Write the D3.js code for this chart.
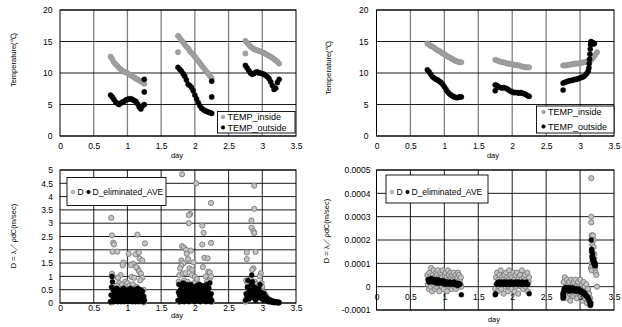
<!DOCTYPE html>
<html><head><meta charset="utf-8">
<script src="https://cdn.jsdelivr.net/npm/d3@7"></script>
<style>
body{margin:0;background:#fff}
svg{display:block}
text{font-family:"Liberation Sans",Arial,sans-serif;fill:#000}
</style>
</head><body>
<svg id="c" width="622" height="327"></svg>
<script>
// ---------------- DATA ----------------
const xTicks = [0, 0.5, 1, 1.5, 2, 2.5, 3, 3.5];
const xTickLabels = ["0", "0.5", "1", "1.5", "2", "2.5", "3", "3.5"];
const tempTicks = [0, 5, 10, 15, 20];
const tempTickLabels = ["0", "5", "10", "15", "20"];
const dTicksL = [0, 0.5, 1, 1.5, 2, 2.5, 3, 3.5, 4, 4.5, 5];
const dTickLabelsL = ["0", "0.5", "1", "1.5", "2", "2.5", "3", "3.5", "4", "4.5", "5"];
const dTicksR = [-0.0001, 0, 0.0001, 0.0002, 0.0003, 0.0004, 0.0005];
const dTickLabelsR = ["-0.0001", "0", "0.0001", "0.0002", "0.0003", "0.0004", "0.0005"];
const seriesNames = ["TEMP_inside", "TEMP_outside", "D", "D_eliminated_AVE"];

// sampling spans (day) of each measured run
const runSpans = [[0.75, 1.25], [1.75, 2.25], [2.75, 3.25]];

// top-left: temperatures (deg C), sampled evenly over each run
const tlInside = [
  [12.6,12.2,11.7,11.4,11.1,10.8,10.6,10.4,10.2,10.1,10.0,9.8,9.6,9.5,9.3,9.1,9.0,8.8,8.7,8.5,8.3],
  [15.9,15.6,15.2,14.9,14.5,14.2,13.9,13.5,13.2,12.9,12.6,12.2,11.9,11.6,11.2,10.9,10.5,10.2,9.9,9.5,9.2],
  [15.1,14.8,14.5,14.2,14.0,13.8,13.7,13.6,13.5,13.4,13.3,13.2,13.0,12.9,12.7,12.6,12.4,12.2,12.0,11.8,11.5]
];
const tlInsideExtra = [[1.75, 13.3], [2.75, 13.1]];
const tlOutside = [
  [6.5,6.2,5.8,5.4,5.2,5.0,5.2,5.4,5.5,5.7,5.8,5.9,5.9,5.8,5.6,5.5,5.1,4.6,4.3,4.8,5.0],
  [10.9,10.6,10.3,9.9,9.5,8.9,8.2,8.0,7.7,7.2,6.5,5.9,5.3,4.8,4.4,4.2,4.0,3.9,3.8,3.7,3.6],
  [11.2,10.8,10.4,10.0,9.8,9.9,10.1,10.2,10.0,10.0,9.9,9.8,9.6,9.4,9.1,8.6,8.0,7.4,7.6,8.5,9.0]
];
const tlOutsideExtra = [[1.25, 9.0], [1.25, 7.0], [2.25, 8.7], [2.25, 6.2]];

// top-right: temperatures (deg C)
const trInside = [
  [14.7,14.5,14.3,14.2,14.0,13.8,13.6,13.5,13.3,13.1,13.0,12.8,12.6,12.5,12.3,12.2,12.0,11.9,11.8,11.7,11.7],
  [12.1,12.0,11.9,11.8,11.7,11.7,11.6,11.5,11.5,11.4,11.4,11.3,11.3,11.2,11.2,11.1,11.0,11.0,10.9,10.9,10.9],
  [11.2,11.2,11.2,11.3,11.3,11.4,11.4,11.5,11.5,11.5,11.6,11.6,11.7,11.7,11.8,11.9,12.0,12.2,12.5,12.9,13.3]
];
const trOutside = [
  [10.5,10.2,9.8,9.4,9.2,9.0,8.9,8.7,8.5,8.2,7.8,7.4,7.0,6.7,6.5,6.3,6.2,6.1,6.1,6.2,6.2],
  [8.1,8.0,7.8,7.7,7.6,7.7,7.6,7.5,7.3,7.1,7.0,6.9,6.9,6.9,6.8,6.9,6.8,6.7,6.6,6.4,6.3],
  [8.4,8.5,8.6,8.7,8.8,8.8,8.9,9.0,9.0,9.1,9.2,9.3,9.4,9.6,9.9,10.3]
];
const trOutsideSpans = [[0.75, 1.25], [1.75, 2.25], [2.75, 3.12]];
const trOutsideExtra = [[1.75,7.2],[2.75,7.3],[3.13,10.8],[3.135,11.5],[3.14,12.2],[3.145,13],[3.15,13.8],[3.155,14.5],[3.16,15],[3.17,14.9],[3.18,14.7],[3.19,14.8],[3.2,14.6],[3.21,14.7]];

// bottom-left: D (m/sec)
const blD = [
  [0.76,3.2],[0.77,2.54],[0.79,2.27],[0.8,2.2],[0.78,1.93],[0.85,1.93],[1.15,2.57],[1.26,2.24],[1.02,1.85],[1.15,1.87],
  [1.12,1.83],[1.17,1.9],[0.94,1.52],[0.93,1.42],[1.08,1.48],[1.05,1.42],[1.18,1.67],[1.22,1.6],[1.15,1.3],[1.17,1.2],
  [1.13,1.35],[1.2,1.1],[1.22,0.95],[1.19,0.85],[0.77,1.1],[0.78,1.0],[0.9,1.05],[0.86,0.95],[0.88,0.75],[0.92,0.7],
  [0.97,0.8],[1.0,0.75],[1.03,0.65],[1.06,0.98],[1.1,0.95],[1.08,0.7],[0.82,0.6],[0.84,0.65],[0.95,0.55],[0.99,0.5],
  [1.01,0.45],[1.12,0.55],[1.14,0.6],[1.16,0.5],[1.2,0.45],[1.24,0.5],[0.8,0.45],[0.87,0.4],[0.91,0.45],[0.96,0.35],
  [1.04,0.4],[1.1,0.35],[0.75,0.05],[0.76,0.02],[1.25,0.1],[1.24,0.02],
  [1.81,4.84],[2.02,4.5],[2.24,3.76],[1.93,3.35],[1.91,3.3],[1.91,3.0],[2.11,2.91],[2.13,2.64],[2.11,2.2],[2.24,2.26],
  [1.81,2.14],[1.84,2.08],[1.87,2.0],[1.94,1.97],[1.88,1.85],[1.9,1.65],[2.14,1.7],[2.19,1.68],[1.8,1.6],[1.83,1.5],
  [1.98,1.53],[1.8,1.4],[1.78,1.3],[1.92,1.3],[1.96,1.25],[2.12,1.35],[2.2,1.18],[2.22,1.15],[1.77,1.05],[1.82,1.1],
  [1.86,1.12],[1.95,1.05],[2.0,0.98],[2.03,0.9],[2.16,1.0],[2.22,0.9],[2.24,1.0],[1.76,0.8],[1.79,0.7],[1.84,0.85],
  [1.89,0.8],[1.99,0.75],[2.06,0.7],[2.09,0.6],[2.14,0.65],[2.18,0.8],[2.2,0.6],[1.85,0.55],[1.92,0.6],[2.04,0.5],
  [2.08,0.5],[1.76,0.05],[2.25,0.05],
  [2.88,4.41],[2.88,3.54],[2.84,3.1],[2.84,2.83],[2.87,2.7],[2.88,2.63],[2.77,1.9],[2.77,1.65],[2.9,1.92],[2.87,1.3],
  [2.85,1.25],[2.98,1.12],[2.96,1.0],[2.76,0.85],[2.78,0.75],[2.83,0.9],[2.89,0.8],[2.92,0.7],[2.95,0.65],[2.99,0.75],
  [3.0,0.6],[2.97,0.5],[2.93,0.45],[2.9,0.55],[3.02,0.4],[3.03,0.35],[3.05,0.3],[2.94,0.35],[3.0,0.3],[3.07,0.2],
  [3.08,0.15],[3.1,0.12],[3.12,0.1],[3.14,0.08],[3.16,0.06],[3.18,0.05],[3.2,0.04],[3.22,0.03],[3.24,0.02],[3.25,0.02],
  [3.11,0.05],[3.15,0.03],[3.19,0.02],[3.23,0.01],[3.06,0.1],[3.04,0.2],[2.86,0.6],[2.82,0.5],[2.75,0.05]
];
// bottom-left: D_eliminated_AVE, sampled evenly over each run
const blAve = [
  [0.05,0.3,0.6,1.0,0.8,0.5,0.2,0.05,0.35,0.15,0.45,0.1,0.3,0.55,0.2,0.05,0.4,0.25,0.1,0.35,0.5,0.15,0.05,0.3,0.45,0.2,0.1,0.55,0.3,0.05,0.25,0.4,0.15,0.35,0.1,0.5,0.25,0.05,0.3,0.45,0.15,0.2,0.55,0.35,0.1,0.25,0.05,0.4,0.3,0.15,0.5,0.2,0.05,0.35,0.45,0.1,0.25,0.55,0.3,0.05,0.2,0.4,0.15,0.5,0.3,0.1,0.35,0.45,0.2,0.05,0.25,0.1],
  [0.1,0.4,0.7,0.3,0.05,0.5,0.2,0.65,0.35,0.1,0.45,0.75,0.3,0.05,0.4,0.2,0.6,0.35,0.1,0.7,0.45,0.15,0.3,0.05,0.55,0.25,0.4,0.7,0.2,0.1,0.35,0.5,0.15,0.3,0.6,0.05,0.25,0.45,0.2,0.65,0.4,0.1,0.3,0.55,0.15,0.7,0.35,0.05,0.25,0.5,0.2,0.4,0.65,0.1,0.3,0.45,0.15,0.6,0.25,0.05,0.35,0.7,0.2,0.4,0.1,0.55,0.3,0.75,0.2,0.05,0.35,0.1],
  [0.1,0.35,0.2,0.6,0.85,0.4,0.15,0.5,0.3,0.7,1.05,0.8,0.45,0.2,0.6,0.35,0.1,0.5,0.3,0.45,0.2,0.55,0.35,0.7,0.25,0.4,0.15,0.3,0.2,0.35,0.1,0.25,0.15,0.2,0.1,0.15,0.05,0.12,0.08,0.1,0.05,0.08,0.04,0.06,0.03,0.05,0.02,0.04,0.03,0.02,0.03,0.02,0.01,0.02]
];

// bottom-right: values in units of 1e-5 m/sec
const BR_UNIT = 1e-5;
const brD = [
  [5,1,3,-1,6,2,4,0,8,3,-2,5,1,7,2,4,-1,3,6,0,5,2,7,1,4,-2,3,6,1,5,0,4,7,2,-1,3,5,1,6,2,4,-2,3,7,1,5,0,3,6,2,4,-1,5,1,3,6,0,4,2,5,-1,3,1,4,6,0,5,2,3,1,4,0],
  [-1,4,1,6,-2,3,0,5,2,7,-1,4,1,3,-3,5,2,0,6,1,4,-2,3,7,0,5,2,-1,4,1,6,3,-2,5,0,2,6,1,-3,4,2,5,0,3,7,1,-1,4,2,5,0,3,1,6,-2,2,4],
  [-3,2,-1,4,-4,0,-2,3,-5,1,-1,2,-3,-6,0,3,-2,1,-4,2,-1,-3,3,0,-2,-5,1,2,-3,0,-1,3,-4,-2,1,-6,-1,2,-3,0,-5,-2,1,-7,-4,-1,-6,-3,-8,-5]
];
const brDSpans = [[0.75, 1.25], [1.75, 2.25], [2.75, 3.15]];
const brDExtra = [[3.165,46.5],[3.165,30],[3.165,27.5],[3.17,22],[3.175,21],[3.18,18],[3.16,8],[3.17,7],[3.17,10],[3.18,15],[3.19,22],[3.2,20],[3.2,17],[3.21,14],[3.21,12],[3.22,10],[3.22,8],[3.23,6],[3.24,5],[3.25,0],[3.19,12],[3.185,9]];
const brAve = [
  [3,2,3,2.5,3.5,2,3,2.5,2,3,1.5,2.5,3,2,1.5,2.5,2,1.5,2.5,2,1,2,1.5,2,1,1.5,2,1,1.5,1.5,1,2,1,1.5,1,0.5,1.5,1,1],
  [1,1.5,2,1,1.5,1,2,1.5,1,2,1.5,1,1,2,1.5,1,2,1,1.5,2,1,1.5,1,2,1.5,1,1.5,2,1,1.5,1,2,1,1.5,1,1.5,2,1,1]
];
const brAveSpans = [[0.76, 1.23], [1.77, 2.23]];
const brAveExtra = [
  [1.25,-3.5],[1.75,-3.5],[1.755,-3],[2.25,-3],
  [2.75,-3],[2.75,-4],[2.75,-5],[2.755,-3.5],[2.755,-4.5],[2.76,-2],[2.77,-1],[2.78,-0.5],[2.79,-1],[2.8,-0.5],
  [2.81,-1.5],[2.82,-0.5],[2.83,-1],[2.84,-2],[2.85,-1],[2.86,-0.5],[2.87,-1.5],[2.88,-1],[2.89,-0.5],[2.9,-1.5],
  [2.91,-1],[2.92,-2],[2.93,-1],[2.94,-1.5],[2.95,-1],[2.96,-2],[2.97,-1.5],[2.98,-1],[2.99,-2],[3.0,-1.5],
  [3.01,-2],[3.02,-2.5],[3.03,-2],[3.04,-2.5],[3.05,-3],[3.06,-2.5],[3.07,-3],[3.08,-3.5],[3.09,-4],[3.1,-4],
  [3.11,-4.5],[3.12,-5],[3.13,-5.5],[3.14,-6.5],[3.15,-7.5],[3.155,-8],[3.16,-7],[3.165,20],[3.17,16],[3.172,15],
  [3.175,13],[3.18,12],[3.185,14],[3.19,11],[3.195,12],[3.2,10],[3.205,11],[3.21,10],[3.215,9],[3.22,10],[3.225,9]
];

// ---------------- HELPERS ----------------
function runs(valueRuns, spans, unit) {
  const u = unit || 1, out = [];
  valueRuns.forEach((vals, k) => {
    const [a, b] = spans[k], n = vals.length;
    vals.forEach((v, i) => out.push([a + (b - a) * i / (n - 1), v * u]));
  });
  return out;
}
function pairs(list, unit) { const u = unit || 1; return list.map(p => [p[0], p[1] * u]); }

const STY = {
  inside: {fill: "#a3a3a3", stroke: "#8e8e8e", sw: 0.6, r: 2.6},
  outside: {fill: "#000", stroke: "#000", sw: 0.4, r: 2.6},
  d: {fill: "#c4c4c4", stroke: "#7a7a7a", sw: 0.9, r: 2.6},
  ave: {fill: "#000", stroke: "#000", sw: 0.4, r: 2.5}
};
const TICK_FS = 8.5;

const svg = d3.select("#c");

function panel(c) {
  const g = svg.append("g");
  const x = d3.scaleLinear().domain([0, 3.5]).range([c.left, c.right]);
  const y = d3.scaleLinear().domain(c.yDomain).range([c.bottom, c.top]);
  // vertical grid
  g.selectAll(null).data(xTicks.filter(t => t > 0 && t < 3.5)).join("line")
    .attr("x1", d => x(d)).attr("x2", d => x(d)).attr("y1", c.top).attr("y2", c.bottom)
    .attr("stroke", c.vColor).attr("stroke-width", c.vWidth);
  // horizontal grid
  g.selectAll(null).data(c.yTicks).join("line")
    .attr("x1", c.left).attr("x2", c.right).attr("y1", d => y(d)).attr("y2", d => y(d))
    .attr("stroke", "#000").attr("stroke-width", 0.9);
  // frame
  g.append("rect").attr("x", c.left).attr("y", c.top).attr("width", c.right - c.left)
    .attr("height", c.bottom - c.top).attr("fill", "none").attr("stroke", "#000").attr("stroke-width", 1);
  // points
  c.series.forEach(s => {
    const st = STY[s.style];
    g.append("g").selectAll("circle").data(s.points).join("circle")
      .attr("cx", d => x(d[0])).attr("cy", d => y(d[1])).attr("r", st.r)
      .attr("fill", st.fill).attr("stroke", st.stroke).attr("stroke-width", st.sw);
  });
  // y axis labels
  const ya = d3.axisLeft(y).tickValues(c.yTicks).tickFormat((d, i) => c.yLabels[i])
    .tickSize(0).tickPadding(c.left - c.yLabelRight);
  const yg = g.append("g").attr("transform", `translate(${c.left},0)`).call(ya);
  yg.select(".domain").remove();
  yg.selectAll("text").attr("font-size", TICK_FS).attr("font-family", "Liberation Sans, Arial, sans-serif");
  // x axis labels
  const xa = d3.axisBottom(x).tickValues(xTicks).tickFormat((d, i) => xTickLabels[i])
    .tickSize(0).tickPadding(c.xPad);
  const xg = g.append("g").attr("transform", `translate(0,${y(c.xAxisAt)})`).call(xa);
  xg.select(".domain").remove();
  xg.selectAll("text").attr("font-size", TICK_FS).attr("font-family", "Liberation Sans, Arial, sans-serif");
  // titles
  g.append("text").attr("x", c.dayX).attr("y", c.dayY).attr("text-anchor", "middle")
    .attr("font-size", 7.5).text("day");
  g.append("text").attr("transform", `translate(${c.ytX},${c.ytY}) rotate(-90)`)
    .attr("text-anchor", "middle").attr("dominant-baseline", "central")
    .attr("font-size", 7.5).text(c.yTitle);
  // legend
  const L = c.legend;
  const lg = g.append("g");
  lg.append("rect").attr("x", L.x).attr("y", L.y).attr("width", L.w).attr("height", L.h)
    .attr("fill", "#fff").attr("stroke", "#000").attr("stroke-width", 0.9);
  L.items.forEach(it => {
    const st = STY[it.style];
    lg.append("circle").attr("cx", it.mx).attr("cy", it.my).attr("r", 1.8)
      .attr("fill", st.fill).attr("stroke", st.stroke).attr("stroke-width", 0.6);
    lg.append("text").attr("x", it.tx).attr("y", it.my).attr("dominant-baseline", "central")
      .attr("font-size", L.fs).text(it.label);
  });
}

// ---------------- PANELS ----------------
panel({
  left: 60, right: 296, top: 10, bottom: 136, yDomain: [0, 20],
  yTicks: tempTicks, yLabels: tempTickLabels, yLabelRight: 52.5,
  xAxisAt: 0, xPad: 7, vColor: "#808080", vWidth: 1.3,
  dayX: 177, dayY: 158, ytX: 13, ytY: 60, yTitle: "Temperature(℃)",
  series: [
    {style: "inside", points: runs(tlInside, runSpans).concat(pairs(tlInsideExtra))},
    {style: "outside", points: runs(tlOutside, runSpans).concat(pairs(tlOutsideExtra))}
  ],
  legend: {x: 217.5, y: 111.5, w: 77.5, h: 21.5, fs: 9, items: [
    {style: "inside", mx: 223, my: 117, tx: 227.5, label: seriesNames[0]},
    {style: "outside", mx: 223, my: 127.5, tx: 227.5, label: seriesNames[1]}
  ]}
});

panel({
  left: 376.5, right: 614, top: 10, bottom: 136, yDomain: [0, 20],
  yTicks: tempTicks, yLabels: tempTickLabels, yLabelRight: 368.5,
  xAxisAt: 0, xPad: 7, vColor: "#808080", vWidth: 1.3,
  dayX: 493, dayY: 158, ytX: 328, ytY: 68, yTitle: "Temperature(℃)",
  series: [
    {style: "inside", points: runs(trInside, runSpans)},
    {style: "outside", points: runs(trOutside, trOutsideSpans).concat(pairs(trOutsideExtra))}
  ],
  legend: {x: 536.5, y: 106, w: 77.5, h: 27, fs: 9, items: [
    {style: "inside", mx: 543.5, my: 112, tx: 548, label: seriesNames[0]},
    {style: "outside", mx: 543.5, my: 126.5, tx: 548, label: seriesNames[1]}
  ]}
});

panel({
  left: 60, right: 296, top: 170, bottom: 303, yDomain: [0, 5],
  yTicks: dTicksL, yLabels: dTickLabelsL, yLabelRight: 53,
  xAxisAt: 0, xPad: 2, vColor: "#333", vWidth: 1.1,
  dayX: 177, dayY: 318, ytX: 13, ytY: 236, yTitle: "D = λ／ρdC(m/sec)",
  series: [
    {style: "d", points: pairs(blD)},
    {style: "ave", points: runs(blAve, runSpans)}
  ],
  legend: {x: 67, y: 177.5, w: 99, h: 28, fs: 8.5, items: [
    {style: "d", mx: 73, my: 192, tx: 77.5, label: seriesNames[2]},
    {style: "ave", mx: 88.5, my: 192, tx: 92.5, label: seriesNames[3]}
  ]}
});

panel({
  left: 376.5, right: 614, top: 170, bottom: 310, yDomain: [-0.0001, 0.0005],
  yTicks: dTicksR, yLabels: dTickLabelsR, yLabelRight: 370.5,
  xAxisAt: 0, xPad: 7, vColor: "#333", vWidth: 1.1,
  dayX: 494, dayY: 322, ytX: 326, ytY: 231, yTitle: "D = λ／ρdC(m/sec)",
  series: [
    {style: "d", points: runs(brD, brDSpans, BR_UNIT).concat(pairs(brDExtra, BR_UNIT))},
    {style: "ave", points: runs(brAve, brAveSpans, BR_UNIT).concat(pairs(brAveExtra, BR_UNIT))}
  ],
  legend: {x: 386, y: 175, w: 102, h: 28, fs: 8.5, items: [
    {style: "d", mx: 392, my: 192, tx: 396.5, label: seriesNames[2]},
    {style: "ave", mx: 407.5, my: 192, tx: 411.5, label: seriesNames[3]}
  ]}
});
</script>
</body></html>
